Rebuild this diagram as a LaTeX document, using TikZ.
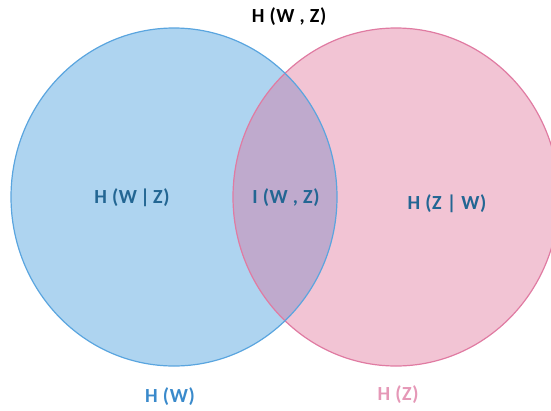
\documentclass[tikz,border=0pt]{standalone}
\usepackage{fontspec}
\setmainfont{Carlito}[LetterSpace=3]
\definecolor{bluefill}{HTML}{AED4F0}
\definecolor{pinkfill}{HTML}{F2C4D4}
\definecolor{overfill}{HTML}{BFAACD}
\definecolor{bluestroke}{HTML}{5AA5DF}
\definecolor{pinkstroke}{HTML}{E07BA2}
\definecolor{textblue}{HTML}{236693}
\definecolor{labblue}{HTML}{3A8ACB}
\definecolor{labpink}{HTML}{E598B7}
\tikzset{
  lab/.style={font=\bfseries\fontsize{20}{23}\selectfont, inner sep=0pt},
}
\begin{document}
\begin{tikzpicture}[x=1pt,y=-1pt]
\useasboundingbox (0,0) rectangle (551,410);
\begin{scope}
\clip (0,0) rectangle (551,410);
\fill[bluefill] (174,197) ellipse [x radius=163, y radius=169];
\fill[pinkfill] (396,197) ellipse [x radius=163, y radius=169];
\begin{scope}
\clip (174,197) ellipse [x radius=163, y radius=169];
\fill[overfill] (396,197) ellipse [x radius=163, y radius=169];
\end{scope}
\draw[pinkstroke, line width=1.2pt] (396,197) ellipse [x radius=163, y radius=169];
\draw[bluestroke, line width=1.2pt] (174,197) ellipse [x radius=163, y radius=169];
\end{scope}
\node[lab, text=black] (hwz) at (289,17) {H (W , Z)};
\node[lab, text=textblue] (hwgz) at (132,198) {H (W\,|\,Z)};
\node[lab, text=textblue] (iwz) at (286,198) {I (W , Z)};
\node[lab, text=textblue] (hzgw) at (447,204) {H (Z | W)};
\node[lab, text=labblue] (hw) at (170,397) {H (W)};
\node[lab, text=labpink] (hz) at (398,395) {H (Z)};
\end{tikzpicture}
\end{document}
